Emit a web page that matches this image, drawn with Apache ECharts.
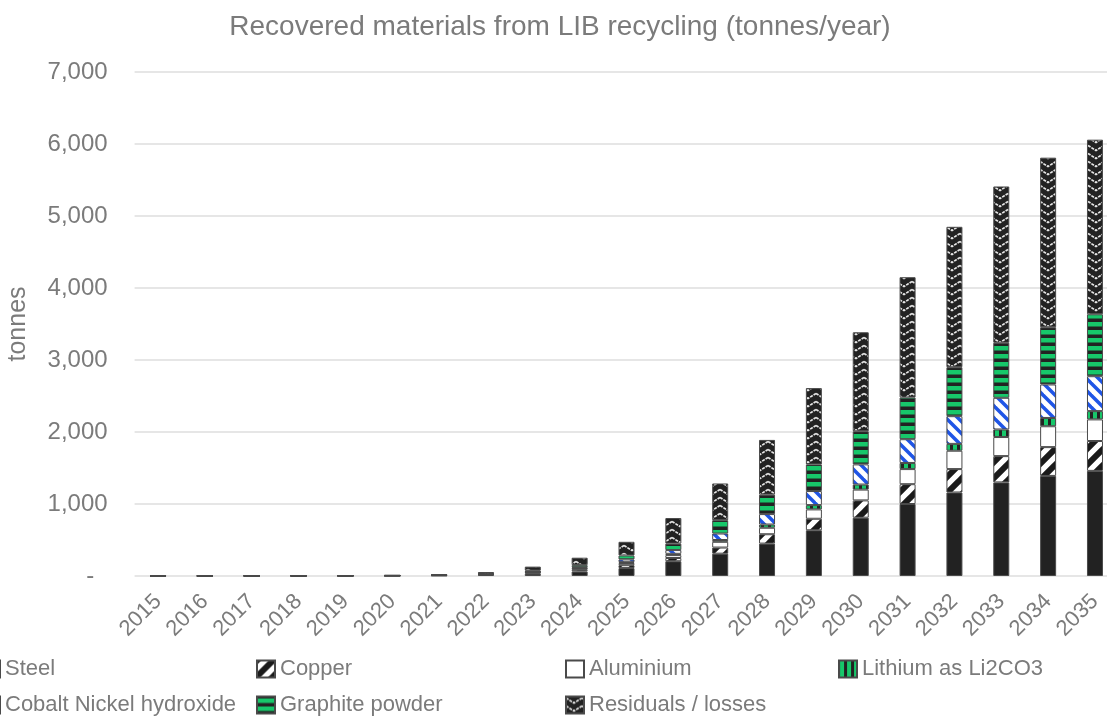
<!DOCTYPE html>
<html>
<head>
<meta charset="utf-8">
<script src="https://cdn.jsdelivr.net/npm/echarts@6/dist/echarts.min.js"></script>
<style>
  html, body { margin: 0; padding: 0; background: #fff; }
  #chart { width: 1107px; height: 720px; }
</style>
</head>
<body>
<div id="chart"></div>
<script>
// Recovered materials from LIB recycling, tonnes per year
const years = ['2015','2016','2017','2018','2019','2020','2021','2022','2023','2024','2025',
               '2026','2027','2028','2029','2030','2031','2032','2033','2034','2035'];

const steel     = [0.8, 1, 1.3, 1.5, 2, 3, 6, 14, 33, 62, 110, 205, 310, 450, 635, 810, 1000, 1160, 1300, 1390, 1460];
const copper    = [0.3, 0.4, 0.5, 0.6, 0.8, 1.1, 2.4, 5, 12, 24, 40, 45, 85, 130, 160, 240, 275, 325, 365, 400, 415];
const aluminium = [0.2, 0.3, 0.4, 0.4, 0.6, 0.8, 1.8, 4, 9, 17, 30, 40, 80, 90, 130, 150, 210, 255, 265, 290, 300];
const lithium   = [0.1, 0.1, 0.1, 0.2, 0.2, 0.3, 0.6, 1.5, 3, 6, 12, 18, 25, 45, 60, 70, 85, 95, 105, 115, 115];
const cobaltNi  = [0.1, 0.2, 0.2, 0.3, 0.4, 0.6, 1.2, 3, 6, 12, 38, 52, 90, 145, 195, 280, 330, 385, 440, 465, 485];
const graphite  = [0.3, 0.4, 0.5, 0.6, 0.8, 1.2, 2.5, 5.5, 13, 30, 55, 90, 185, 270, 370, 460, 580, 680, 765, 795, 860];
const residuals = [1.2, 1.6, 2, 2.4, 3.2, 5, 10.5, 22, 54, 103, 190, 355, 510, 760, 1060, 1375, 1670, 1950, 2170, 2355, 2425];

const seriesNames = ['Steel', 'Copper', 'Aluminium', 'Lithium as Li2CO3',
                     'Cobalt Nickel hydroxide', 'Graphite powder', 'Residuals / losses'];
const seriesData = [steel, copper, aluminium, lithium, cobaltNi, graphite, residuals];

// ---- fill patterns -------------------------------------------------------
const DARK = '#222222';
const GREEN = '#17c76a';
const BLUE = '#1f55e6';
const TEXT = '#7b7b7b';

function tile(w, h, draw) {
  const c = document.createElement('canvas');
  c.width = w; c.height = h;
  const g = c.getContext('2d');
  draw(g, w, h);
  return { image: c, repeat: 'repeat' };
}

function diagonal(g, w, h, color, width, upward) {
  g.strokeStyle = color;
  g.lineWidth = width;
  g.lineCap = 'square';
  for (let k = -w; k <= w; k += w) {
    g.beginPath();
    if (upward) { g.moveTo(k, h); g.lineTo(k + w, 0); }
    else        { g.moveTo(k, 0); g.lineTo(k + w, h); }
    g.stroke();
  }
}

const fills = [
  DARK,
  tile(16, 16, (g, w, h) => { g.fillStyle = '#fff'; g.fillRect(0, 0, w, h); diagonal(g, w, h, '#1a1a1a', 6, true); }),
  '#ffffff',
  tile(7, 8, (g, w, h) => { g.fillStyle = DARK; g.fillRect(0, 0, w, h); g.fillStyle = GREEN; g.fillRect(1, 0, 4, h); }),
  tile(12, 12, (g, w, h) => { g.fillStyle = '#fff'; g.fillRect(0, 0, w, h); diagonal(g, w, h, BLUE, 3.5, false); }),
  tile(8, 8, (g, w, h) => { g.fillStyle = DARK; g.fillRect(0, 0, w, h); g.fillStyle = GREEN; g.fillRect(0, 2, w, 4.5); }),
  tile(16, 8, (g, w, h) => {
    g.fillStyle = DARK; g.fillRect(0, 0, w, h);
    g.strokeStyle = '#e6e6e6'; g.lineWidth = 1.7;
    g.setLineDash([3, 1]);
    g.beginPath();
    g.moveTo(0, 1.5); g.lineTo(8, 6.5); g.lineTo(16, 1.5);
    g.stroke();
  })
];

// ---- legend: four columns, two rows ---------------------------------------
const legendPos = [
  [-19, 658], [256, 658], [565, 658], [838, 658],
  [-19, 694], [256, 694], [565, 694]
];

const legends = seriesNames.map((name, i) => ({
  data: [name],
  left: legendPos[i][0],
  top: legendPos[i][1],
  padding: 0,
  icon: 'rect',
  itemWidth: 18,
  itemHeight: 17,
  selectedMode: false,
  textStyle: { color: TEXT, fontSize: 22, fontFamily: 'Liberation Sans' }
}));

const chart = echarts.init(document.getElementById('chart'), null, { renderer: 'canvas' });

chart.setOption({
  animation: false,
  backgroundColor: '#ffffff',
  title: {
    text: 'Recovered materials from LIB recycling (tonnes/year)',
    left: 555,
    textAlign: 'center',
    top: 8,
    textStyle: { color: TEXT, fontSize: 28, fontWeight: 'normal', fontFamily: 'Liberation Sans' }
  },
  legend: legends,
  grid: { left: 134.6, top: 72, right: -11.4, bottom: 144, outerBoundsMode: 'none', containLabel: false },
  xAxis: {
    type: 'category',
    data: years,
    axisLine: { show: false },
    axisTick: { show: false },
    axisLabel: {
      rotate: 45, margin: 22, color: TEXT, fontSize: 22, fontFamily: 'Liberation Sans',
      interval: 0
    }
  },
  yAxis: {
    type: 'value',
    min: 0, max: 7000, interval: 1000,
    name: 'tonnes',
    nameLocation: 'middle',
    nameGap: 104,
    nameTextStyle: { color: TEXT, fontSize: 25, fontFamily: 'Liberation Sans' },
    axisLine: { show: false },
    axisTick: { show: false },
    splitLine: { lineStyle: { color: '#dedede', width: 1.5 } },
    axisLabel: {
      margin: 27, color: TEXT, fontSize: 24, fontFamily: 'Liberation Sans',
      formatter: v => v === 0 ? '-\u00a0\u00a0' : v.toLocaleString('en-US')
    }
  },
  series: seriesNames.map((name, i) => ({
    name: name,
    type: 'bar',
    stack: 'total',
    barWidth: 16,
    data: seriesData[i],
    itemStyle: { color: fills[i], borderColor: '#4a4a4a', borderWidth: 1 },
    emphasis: { disabled: true }
  }))
});
</script>
</body>
</html>
